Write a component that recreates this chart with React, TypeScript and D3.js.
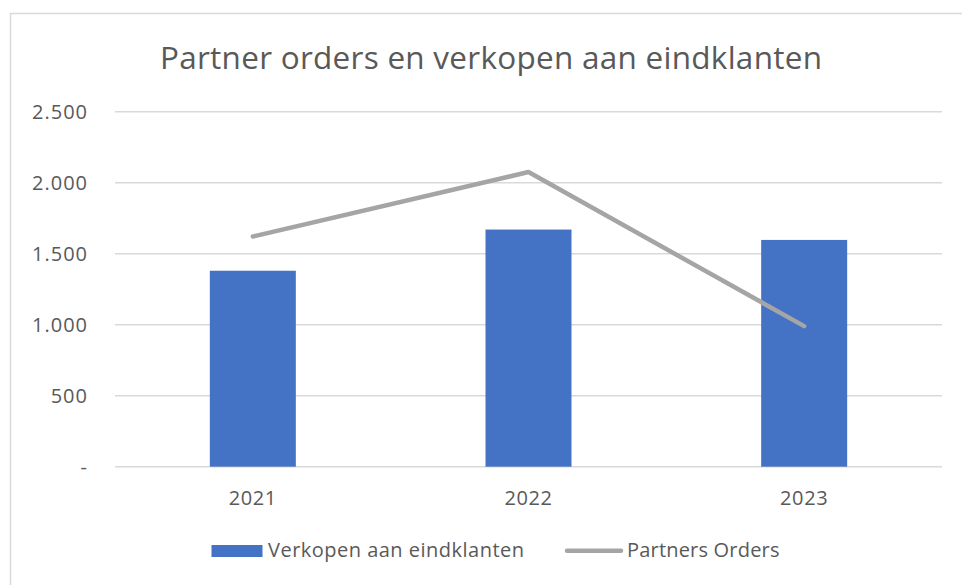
import React from "react";
import * as d3 from "d3";

const years = ["2021", "2022", "2023"];
const verkopen = [1380, 1670, 1597];
const partnerOrders = [1621, 2075, 990];
const yTicks = [0, 500, 1000, 1500, 2000, 2500];
const title = "Partner orders en verkopen aan eindklanten";
const seriesNames = ["Verkopen aan eindklanten", "Partners Orders"];

const W = 962;
const H = 585;
const FONT = "'Open Sans', 'Noto Sans', sans-serif";
const TEXT = "#595959";
const GRID = "#D9D9D9";
const BLUE = "#4472C4";
const GRAY = "#A5A5A5";

const fmt = (v: number) =>
  v === 0 ? "-" : d3.format(",")(v).replace(/,/g, ".");

export default function App() {
  const x = d3.scaleBand<string>().domain(years).range([115, 942]).paddingInner(0.688).paddingOuter(0.344);
  const xc = d3.scaleBand<string>().domain(years).range([115, 942]);
  const y = d3.scaleLinear().domain([0, 2500]).range([466.7, 111.7]);
  const line = d3
    .line<number>()
    .x((_, i) => (xc(years[i]) as number) + xc.bandwidth() / 2)
    .y((d) => y(d));

  return (
    <svg
      width={W}
      height={H}
      style={{ position: "absolute", left: 0, top: 0, background: "#fff" }}
    >
      <rect x={10.5} y={13.5} width={960} height={580} fill="#fff" stroke={GRID} strokeWidth={1.5} />
      <text
        x={160}
        y={69}
        fontFamily={FONT}
        fontSize={31.5}
        fill={TEXT}
        textLength={662}
        lengthAdjust="spacing"
      >
        {title}
      </text>
      {yTicks.map((t) => (
        <g key={t}>
          <line x1={115} x2={942} y1={y(t)} y2={y(t)} stroke={GRID} strokeWidth={1.5} />
          <text
            x={88}
            y={y(t)}
            dy="0.36em"
            textAnchor="end"
            fontFamily={FONT}
            fontSize={20}
            letterSpacing={1}
            fill={TEXT}
          >
            {fmt(t)}
          </text>
        </g>
      ))}
      {years.map((yr, i) => (
        <rect
          key={yr}
          x={x(yr) as number}
          y={y(verkopen[i])}
          width={x.bandwidth()}
          height={y(0) - y(verkopen[i])}
          fill={BLUE}
        />
      ))}
      <path
        d={line(partnerOrders) as string}
        fill="none"
        stroke={GRAY}
        strokeWidth={4.5}
        strokeLinecap="round"
        strokeLinejoin="round"
      />
      {years.map((yr) => (
        <text
          key={yr}
          x={(xc(yr) as number) + xc.bandwidth() / 2}
          y={505}
          textAnchor="middle"
          fontFamily={FONT}
          fontSize={20}
          letterSpacing={0.6}
          fill={TEXT}
        >
          {yr}
        </text>
      ))}
      <g>
        <rect x={211.5} y={545} width={51} height={12} fill={BLUE} />
        <text x={268} y={557} fontFamily={FONT} fontSize={20} fill={TEXT} textLength={256} lengthAdjust="spacing">
          {seriesNames[0]}
        </text>
        <line x1={567} x2={621} y1={550.7} y2={550.7} stroke={GRAY} strokeWidth={4.5} strokeLinecap="round" />
        <text x={627} y={557} fontFamily={FONT} fontSize={20} fill={TEXT} textLength={152.5} lengthAdjust="spacing">
          {seriesNames[1]}
        </text>
      </g>
    </svg>
  );
}
